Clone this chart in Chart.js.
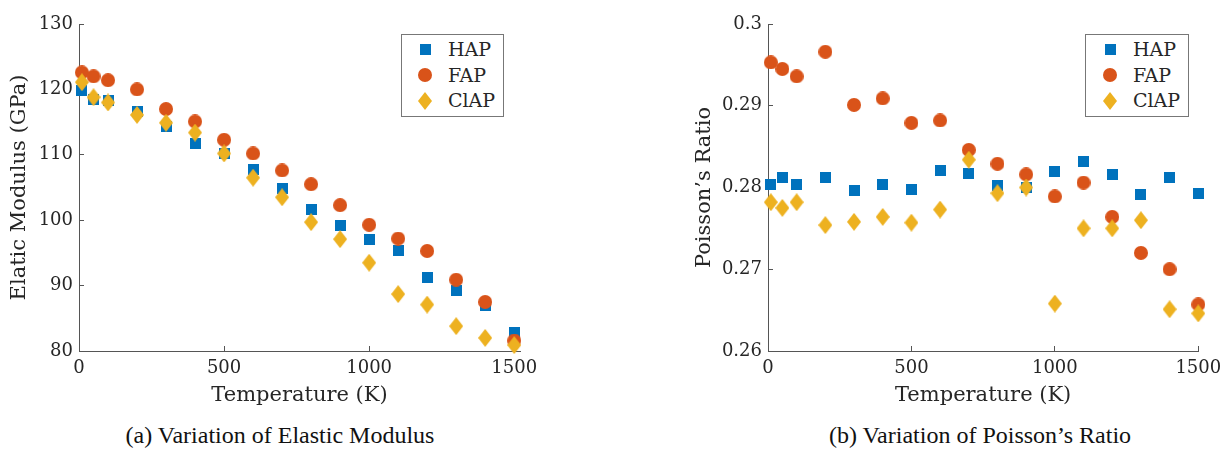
<!DOCTYPE html>
<html>
<head>
<meta charset="utf-8">
<script src="https://cdn.jsdelivr.net/npm/chart.js@4.4.1/dist/chart.umd.min.js"></script>
<style>
  body { margin: 0; background: #fff; width: 1221px; height: 463px; position: relative; overflow: hidden; }
  .wrap { position: absolute; top: 0; height: 420px; }
  .legend { position: absolute; top: 34px; height: 83px; border: 1px solid #777; background: #fff; box-sizing: border-box; }
  .row { position: absolute; left: 0; right: 0; height: 25px; font: 19px "DejaVu Serif", serif; color: #262626; }
  .row img { position: absolute; }
  .row span { position: absolute; top: 1px; }
  .caption { position: absolute; top: 422px; font: 24px "Liberation Serif", serif; color: #111; text-align: center; width: 500px; }
</style>
</head>
<body>
<div class="wrap" style="left:0;width:610px"><canvas id="c1"></canvas></div>
<div class="wrap" style="left:690px;width:560px"><canvas id="c2"></canvas></div>
<div class="legend" id="leg1" style="left:401px;width:103px"></div>
<div class="legend" id="leg2" style="left:1085px;width:104px"></div>
<div class="caption" style="left:30px">(a) Variation of Elastic Modulus</div>
<div class="caption" style="left:730px">(b) Variation of Poisson’s Ratio</div>
<script>
const temps = [10, 50, 100, 200, 300, 400, 500, 600, 700, 800, 900, 1000, 1100, 1200, 1300, 1400, 1500];

// elastic modulus (GPa)
const hapE  = [119.9, 118.5, 118.3, 116.6, 114.3, 111.8, 110.2, 107.8, 104.8, 101.7, 99.2, 97.1, 95.4, 91.3, 89.3, 86.9, 82.8];
const fapE  = [122.6, 122.0, 121.4, 120.0, 117.0, 115.1, 112.3, 110.2, 107.6, 105.5, 102.3, 99.3, 97.2, 95.3, 90.9, 87.5, 81.6];
const clapE = [121.1, 118.8, 118.0, 116.1, 114.9, 113.4, 110.2, 106.5, 103.5, 99.7, 97.1, 93.5, 88.7, 87.1, 83.8, 82.0, 80.9];

// poisson's ratio
const hapNu  = [0.2804, 0.2812, 0.2804, 0.2812, 0.2796, 0.2804, 0.2798, 0.2821, 0.2817, 0.2803, 0.2800, 0.2820, 0.2832, 0.2816, 0.2791, 0.2812, 0.2793];
const fapNu  = [0.2953, 0.2945, 0.2936, 0.2966, 0.2901, 0.2909, 0.2879, 0.2882, 0.2846, 0.2829, 0.2816, 0.2789, 0.2806, 0.2764, 0.2720, 0.2700, 0.2657];
const clapNu = [0.2782, 0.2775, 0.2782, 0.2754, 0.2758, 0.2764, 0.2757, 0.2773, 0.2834, 0.2793, 0.2800, 0.2658, 0.2750, 0.2750, 0.2760, 0.2651, 0.2646];

const tempTicks = [0, 500, 1000, 1500];
const eTicks = [80, 90, 100, 110, 120, 130];
const nuTicks = [0.26, 0.27, 0.28, 0.29, 0.3];

const names = ['HAP', 'FAP', 'ClAP'];
const colors = ['#0072BD', '#D95319', '#EDB120'];
const shapes = ['square', 'circle', 'diamond'];

function marker(shape, color) {
    const c = document.createElement('canvas');
    const w = shape === 'square' ? 11 : 14;
    const h = shape === 'diamond' ? 18 : w;
    c.width = w; c.height = h;
    const g = c.getContext('2d');
    g.fillStyle = color;
    if (shape === 'square') {
        g.fillRect(0, 0, w, h);
    } else if (shape === 'circle') {
        g.beginPath(); g.arc(w / 2, h / 2, w / 2, 0, Math.PI * 2); g.fill();
    } else {
        g.beginPath();
        g.moveTo(w / 2, 0); g.lineTo(w, h / 2); g.lineTo(w / 2, h); g.lineTo(0, h / 2);
        g.closePath(); g.fill();
    }
    return c;
}
const markers = shapes.map((s, i) => marker(s, colors[i]));

function datasets(series) {
    return series.map((vals, i) => ({
        label: names[i],
        data: temps.map((t, j) => ({x: t, y: vals[j]})),
        pointStyle: markers[i],
        pointRadius: 7,
        showLine: false,
        clip: false,
        order: 2 - i   // ClAP on top
    }));
}

const tickFont = {family: 'DejaVu Serif', size: 18};
const titleFont = {family: 'DejaVu Serif', size: 21};

function options(xMax, yMin, yMax, yTicks, yTitle, yW, yTitlePad, padRight) {
    return {
        responsive: false,
        animation: false,
        layout: {padding: {top: 24, right: padRight, bottom: 0, left: 0}},
        plugins: {legend: {display: false}, tooltip: {enabled: false}},
        scales: {
            x: {
                type: 'linear', min: 0, max: xMax,
                afterBuildTicks: s => { s.ticks = tempTicks.map(v => ({value: v})); },
                afterFit: s => { s.height = 69; },
                grid: {drawOnChartArea: false, tickLength: -5, color: '#555'},
                border: {color: '#555', width: 1},
                ticks: {font: tickFont, color: '#262626', padding: 12, maxRotation: 0, callback: v => String(v)},
                title: {display: true, text: 'Temperature (K)', font: titleFont, color: '#262626', padding: {top: 0, bottom: 12}}
            },
            y: {
                type: 'linear', min: yMin, max: yMax,
                afterBuildTicks: s => { s.ticks = yTicks.map(v => ({value: v})); },
                afterFit: s => { s.width = yW; },
                grid: {drawOnChartArea: false, tickLength: -5, color: '#555'},
                border: {color: '#555', width: 1},
                ticks: {font: tickFont, color: '#262626', padding: 11, callback: v => String(+v.toFixed(2))},
                title: {display: true, text: yTitle, font: titleFont, color: '#262626', padding: {top: yTitlePad, bottom: 0}}
            }
        }
    };
}

function chart(id, series, opts, w) {
    const cv = document.getElementById(id);
    cv.width = w; cv.height = 420;
    new Chart(cv.getContext('2d'), {type: 'scatter', data: {datasets: datasets(series)}, options: opts});
}

chart('c1', [hapE, fapE, clapE], options(1520, 80, 130, eTicks, 'Elatic Modulus (GPa)', 79, 7.4, 90), 610);
chart('c2', [hapNu, fapNu, clapNu], options(1500, 0.26, 0.3, nuTicks, 'Poisson’s Ratio', 78, 2.4, 51.7), 560);

function legend(id, mx, tx) {
    const box = document.getElementById(id);
    names.forEach((n, i) => {
        const row = document.createElement('div');
        row.className = 'row';
        row.style.top = (2 + i * 25.5) + 'px';
        const img = document.createElement('img');
        img.src = markers[i].toDataURL();
        img.style.left = (mx - markers[i].width / 2) + 'px';
        img.style.top = (12.5 - markers[i].height / 2) + 'px';
        const sp = document.createElement('span');
        sp.textContent = n;
        sp.style.left = tx + 'px';
        row.appendChild(img); row.appendChild(sp);
        box.appendChild(row);
    });
}
legend('leg1', 23, 46);
legend('leg2', 24, 47);
</script>
</body>
</html>
